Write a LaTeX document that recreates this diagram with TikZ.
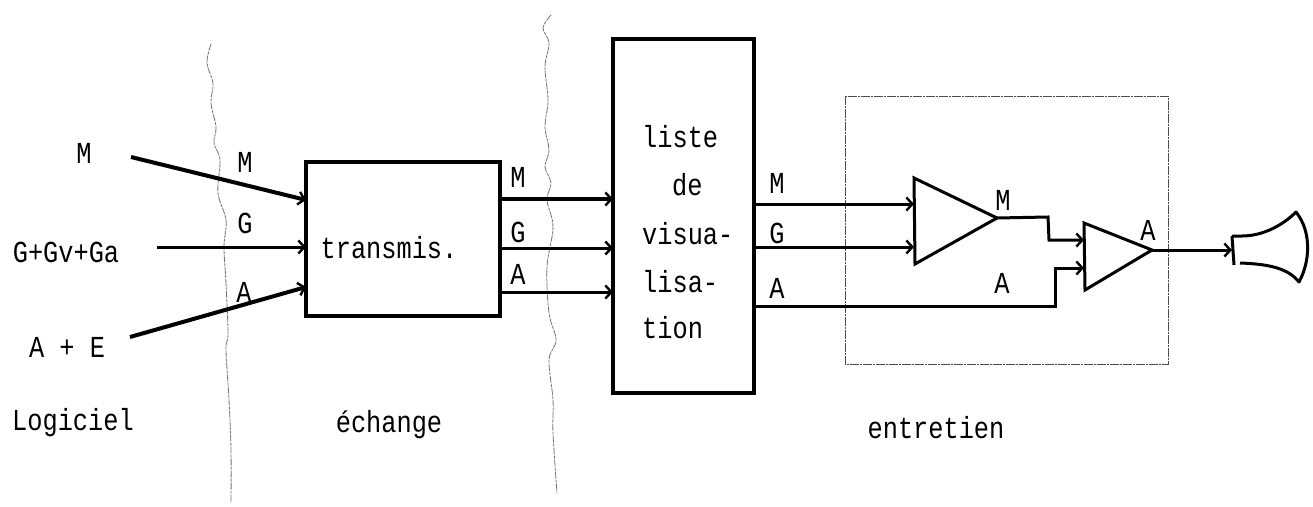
\documentclass[tikz,border=0pt]{standalone}
\usepackage{fontspec}
\setmonofont[FakeStretch=0.83]{Liberation Mono}
\usetikzlibrary{arrows.meta}
\tikzset{
  txt/.style={inner sep=0pt,font=\ttfamily\fontsize{30.5}{30.5}\selectfont,text=black},
  ltxt/.style={txt,anchor=west},
  blockbox/.style={draw=black,line width=3.6pt,rectangle,inner sep=0pt},
  amp/.style={draw=black,line width=3pt,line join=miter},
  wire/.style={draw=black,line width=3pt,-{Straight Barb[length=6pt,width=13pt,line width=2.4pt]}},
  heavy/.style={wire,line width=4pt},
  wavy/.style={draw=black!55,line width=0.8pt,dash pattern=on 7pt off 1pt on 3pt off 1pt},
  frame/.style={draw=black!70,line width=0.9pt,dash pattern=on 9pt off 1pt on 2pt off 1pt},
}
\begin{document}
\begin{tikzpicture}[x=1pt,y=-1pt]
\useasboundingbox (0,0) rectangle (1313,506);
% boundaries
\draw[wavy] plot[smooth,tension=0.6] coordinates {(211,44)(207,63)(213,83)(211,103)(216,127)(214,143)(220,160)(218,193)(226,220)(224,247)(226,283)(228,333)(226,350)(229,400)(231,450)(231,503)};
\draw[wavy] plot[smooth,tension=0.6] coordinates {(551,15)(543,28)(549,43)(545,67)(548,100)(545,127)(549,150)(545,167)(551,183)(547,200)(553,227)(547,267)(549,313)(556,340)(549,360)(553,400)(553,433)(557,493)};
\draw[frame] (845,96) rectangle (1168,364);
% blocks
\node[blockbox,minimum width=194pt,minimum height=154pt] (tx) at (403,239) {};
\node[blockbox,minimum width=141pt,minimum height=354pt] (liste) at (683.5,216) {};
\node[txt] (txlabel) at (389,248) {transmis.};
\node[ltxt] (l1) at (642,137) {liste};
\node[ltxt] (l2) at (672,185) {de};
\node[ltxt] (l3) at (642,234) {visua-};
\node[ltxt] (l4) at (642,282) {lisa-};
\node[ltxt] (l5) at (642,328) {tion};
% amplifiers
\coordinate (a1a) at (914,178); \coordinate (a1b) at (915,264); \coordinate (a1o) at (997,218);
\coordinate (a2a) at (1084,223); \coordinate (a2b) at (1085,290); \coordinate (a2o) at (1152,250);
\draw[amp] (a1a) -- (a1o) -- (a1b) -- cycle;
\draw[amp] (a2a) -- (a2o) -- (a2b) -- cycle;
% horn
\coordinate (hn) at (1232,250);
\draw[amp,line join=round] (1232,236) -- (1234,265);
\draw[amp,line join=round] (1232,236) -- (1242,236) .. controls (1262,236) and (1282,226) .. (1296,212) .. controls (1312,232) and (1310,262) .. (1299,282) .. controls (1288,268) and (1268,264) .. (1240,263);
% free ends
\coordinate (mi) at (131,157); \coordinate (gi) at (157,247); \coordinate (ai) at (130,337);
\coordinate (mt) at (306,200); \coordinate (gt) at (306,247); \coordinate (at) at (306,287);
\coordinate (mo) at (500,199); \coordinate (go) at (500,248); \coordinate (ao) at (500,292);
\coordinate (ml) at (613,199); \coordinate (gl) at (613,248); \coordinate (al) at (613,292);
\coordinate (m2) at (754,204); \coordinate (g2) at (754,247); \coordinate (a3) at (754,306);
\coordinate (m3) at (914,204); \coordinate (g3) at (914,247);
\coordinate (a2in) at (1084,268); \coordinate (m4) at (1084,240);
% connectors
\draw[heavy] (mi) -- (mt);
\draw[wire] (gi) -- (gt);
\draw[heavy] (ai) -- (at);
\draw[heavy] (mo) -- (ml);
\draw[wire] (go) -- (gl);
\draw[wire] (ao) -- (al);
\draw[wire] (m2) -- (m3);
\draw[wire] (g2) -- (g3);
\draw[wire] (a3) -- (1055,306) -- (1055,268) -- (a2in);
\draw[wire] (a1o) -- (1048,217) -- (1049,240) -- (m4);
\draw[wire] (a2o) -- (hn);
% labels
\node[txt] (t1) at (84,153) {M};
\node[txt] (t2) at (66,252) {G+Gv+Ga};
\node[txt] (t3) at (67,347) {A + E};
\node[txt] (t4) at (245,162) {M};
\node[txt] (t5) at (245,223) {G};
\node[txt] (t6) at (244,292) {A};
\node[txt] (t7) at (518,177) {M};
\node[txt] (t8) at (518,232) {G};
\node[txt] (t9) at (518,274) {A};
\node[txt] (t10) at (777,183) {M};
\node[txt] (t11) at (777,233) {G};
\node[txt] (t12) at (777,288) {A};
\node[txt] (t13) at (1003,200) {M};
\node[txt] (t14) at (1002,283) {A};
\node[txt] (t15) at (1148,230) {A};
\node[txt] (t16) at (73,423) {Logiciel};
\node[txt] (t17) at (389,425) {échange};
\node[txt] (t18) at (936,428) {entretien};
\end{tikzpicture}
\end{document}
